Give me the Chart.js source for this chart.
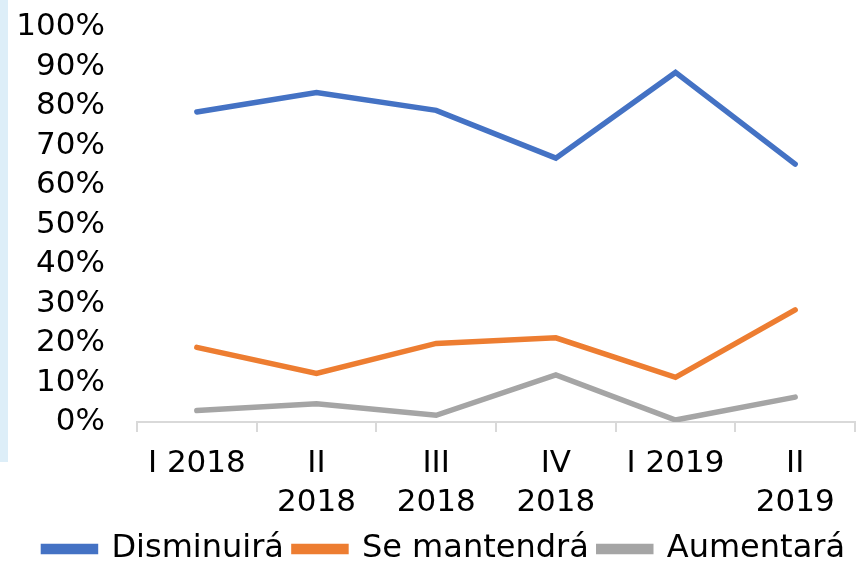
<!DOCTYPE html>
<html>
<head>
<meta charset="utf-8">
<script src="https://cdn.jsdelivr.net/npm/chart.js@4"></script>
<style>
	html, body { margin: 0; padding: 0; background: #ffffff; }
	#wrap { position: relative; width: 856px; height: 562px; }
	#strip { position: absolute; left: 0; top: 0; width: 8px; height: 462px; background: #ddeef8; }
	#chart { position: absolute; left: 0; top: 0; }
</style>
</head>
<body>
<div id="wrap">
	<div id="strip"></div>
	<canvas id="chart" width="856" height="562"></canvas>
</div>
<script>
	// 분기 레이블
	let categories = ['I 2018', ['II', '2018'], ['III', '2018'], ['IV', '2018'], 'I 2019', ['II', '2019']];
	let seriesNames = ['Disminuirá', 'Se mantendrá', 'Aumentará'];
	let seriesColors = ['#4472c4', '#ed7d31', '#a5a5a5'];

	// 시리즈 값 (%)
	let disminuira = [78.5, 83.4, 78.9, 66.8, 88.5, 65.3];
	let seMantendra = [18.9, 12.3, 19.9, 21.3, 11.3, 28.4];
	let aumentara = [2.9, 4.6, 1.7, 11.9, 0.5, 6.3];

	let yTicks = [0, 10, 20, 30, 40, 50, 60, 70, 80, 90, 100];

	let fontFamily = '"DejaVu Sans", Verdana, sans-serif';

	let allValues = [disminuira, seMantendra, aumentara];
	let datasets = allValues.map(function(values, i) {
		return {
			label: seriesNames[i],
			data: values,
			borderColor: seriesColors[i],
			backgroundColor: seriesColors[i],
			borderWidth: 5.5,
			borderCapStyle: 'round',
			borderJoinStyle: 'miter',
			pointRadius: 0,
			pointHoverRadius: 0,
			tension: 0
		};
	});

	let ctx = document.getElementById('chart').getContext('2d');
	let chart = new Chart(ctx, {
		type: 'line',
		data: { labels: categories, datasets: datasets },
		options: {
			responsive: false,
			animation: false,
			layout: { padding: { left: 0, right: 1, top: 27, bottom: -13 } },
			plugins: {
				tooltip: { enabled: false },
				legend: {
					position: 'bottom',
					align: 'end',
					labels: {
						color: '#000000',
						font: { family: fontFamily, size: 32 },
						boxWidth: 52,
						boxHeight: 5,
						padding: 10
					}
				}
			},
			scales: {
				y: {
					min: 0,
					max: 100,
					afterBuildTicks: function(scale) {
						scale.ticks = yTicks.map(function(v) { return { value: v }; });
					},
					afterFit: function(scale) {
						scale.width = 137;
					},
					grid: {
						display: true,
						drawOnChartArea: false,
						drawTicks: true,
						tickLength: 32,
						color: 'rgba(0,0,0,0)'
					},
					border: { display: false },
					ticks: {
						color: '#000000',
						padding: 0,
						autoSkip: false,
						font: { family: fontFamily, size: 31, lineHeight: 1 },
						callback: function(v) { return v + '%'; }
					}
				},
				x: {
					offset: true,
					afterFit: function(scale) {
						scale.height = 101;
					},
					grid: {
						offset: true,
						drawOnChartArea: false,
						drawTicks: true,
						tickLength: 10,
						color: '#d9d9d9',
						lineWidth: 2
					},
					border: { display: true, color: '#d9d9d9', width: 2 },
					ticks: {
						color: '#000000',
						padding: 12,
						maxRotation: 0,
						autoSkip: false,
						font: { family: fontFamily, size: 31, lineHeight: 1.27 }
					}
				}
			}
		}
	});
</script>
</body>
</html>
